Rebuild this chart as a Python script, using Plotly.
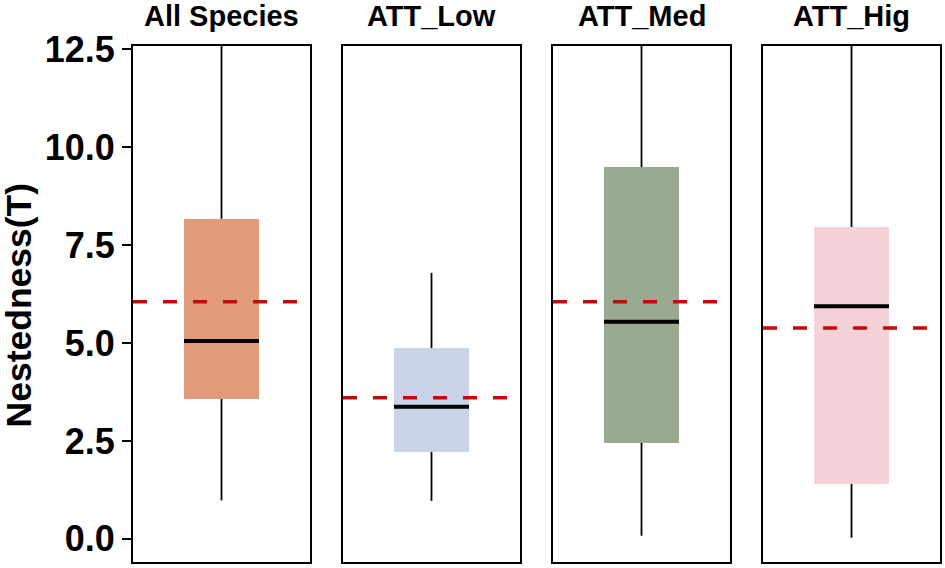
import plotly.graph_objects as go

# ---- data ----
groups = ["All Species", "ATT_Low", "ATT_Med", "ATT_Hig"]
lower_whisker = [0.98, 0.97, 0.08, 0.03]
q1 = [3.57, 2.22, 2.45, 1.40]
median = [5.05, 3.37, 5.54, 5.94]
q3 = [8.17, 4.87, 9.49, 7.96]
upper_whisker = [13.0, 6.79, 13.0, 13.0]
mean_line = [6.05, 3.60, 6.05, 5.38]
box_colors = ["#E09C7A", "#C9D5E6", "#9AAA90", "#F5D2D7"]

y_ticks = [0.0, 2.5, 5.0, 7.5, 10.0, 12.5]
y_title = "Nestedness(T)"

FONT = "Liberation Sans, Arial, sans-serif"
BOX_W = 0.424
panel_w = 0.2193
gap = (1 - 4 * panel_w) / 3

fig = go.Figure()
layout_axes = {}
for i, g in enumerate(groups):
    n = "" if i == 0 else str(i + 1)
    xa, ya = "x" + n, "y" + n
    # box body
    fig.add_trace(go.Bar(
        x=[0], base=[q1[i]], y=[q3[i] - q1[i]], width=BOX_W,
        marker=dict(color=box_colors[i], line=dict(width=0)),
        xaxis=xa, yaxis=ya, showlegend=False, hoverinfo="skip"))
    # whiskers
    fig.add_trace(go.Scatter(
        x=[0, 0, None, 0, 0],
        y=[lower_whisker[i], q1[i], None, q3[i], upper_whisker[i]],
        mode="lines", line=dict(color="black", width=1.8),
        xaxis=xa, yaxis=ya, showlegend=False, hoverinfo="skip"))
    # median
    fig.add_trace(go.Scatter(
        x=[-BOX_W / 2, BOX_W / 2], y=[median[i], median[i]],
        mode="lines", line=dict(color="black", width=4),
        xaxis=xa, yaxis=ya, showlegend=False, hoverinfo="skip"))
    # mean dashed
    fig.add_trace(go.Scatter(
        x=[-0.5, 0.5], y=[mean_line[i], mean_line[i]],
        mode="lines", line=dict(color="#C40A0A", width=3.5, dash="14px,16px"),
        xaxis=xa, yaxis=ya, showlegend=False, hoverinfo="skip"))

    x0 = i * (panel_w + gap)
    layout_axes["xaxis" + n] = dict(
        domain=[x0, x0 + panel_w], range=[-0.5, 0.5], showticklabels=False,
        ticks="", showgrid=False, zeroline=False, showline=True, mirror=True,
        linecolor="black", linewidth=2, anchor=ya, fixedrange=True,
        automargin=False)
    yax = dict(
        range=[-0.59, 12.58], showgrid=False, zeroline=False, showline=True,
        mirror=True, linecolor="black", linewidth=2, anchor=xa, automargin=False,
        tickvals=y_ticks, ticktext=[f"{v:.1f}" for v in y_ticks])
    if i == 0:
        yax.update(ticks="outside", ticklen=9, tickwidth=1.5, tickcolor="black",
                   showticklabels=True,
                   tickfont=dict(family=FONT, size=36, color="black", weight="bold"))
    else:
        yax.update(ticks="", showticklabels=False, matches="y")
    layout_axes["yaxis" + n] = yax

    fig.add_annotation(
        text=f"<b>{g}</b>", xref=xa + " domain", yref="paper", x=0.5, y=1,
        xanchor="center", yanchor="bottom", yshift=13, showarrow=False,
        borderpad=0, font=dict(family=FONT, size=29, color="black"))

# y-axis title
fig.add_annotation(
    text=f"<b>{y_title}</b>", xref="paper", yref="paper",
    x=-0.1413, y=0.499, xanchor="center", yanchor="middle",
    textangle=-90, showarrow=False, borderpad=0,
    font=dict(family=FONT, size=35.5, color="black"))

fig.update_layout(
    width=945, height=568,
    margin=dict(l=133, r=5, t=46, b=6, autoexpand=False),
    plot_bgcolor="white", paper_bgcolor="white",
    bargap=0, showlegend=False, hovermode=False,
    **layout_axes)

# remove the page's default body margin so the figure fills the window
fig.write_html("out.html",
               config={"displayModeBar": False, "staticPlot": True},
               post_script="document.body.style.margin='0';document.body.style.overflow='hidden';")
